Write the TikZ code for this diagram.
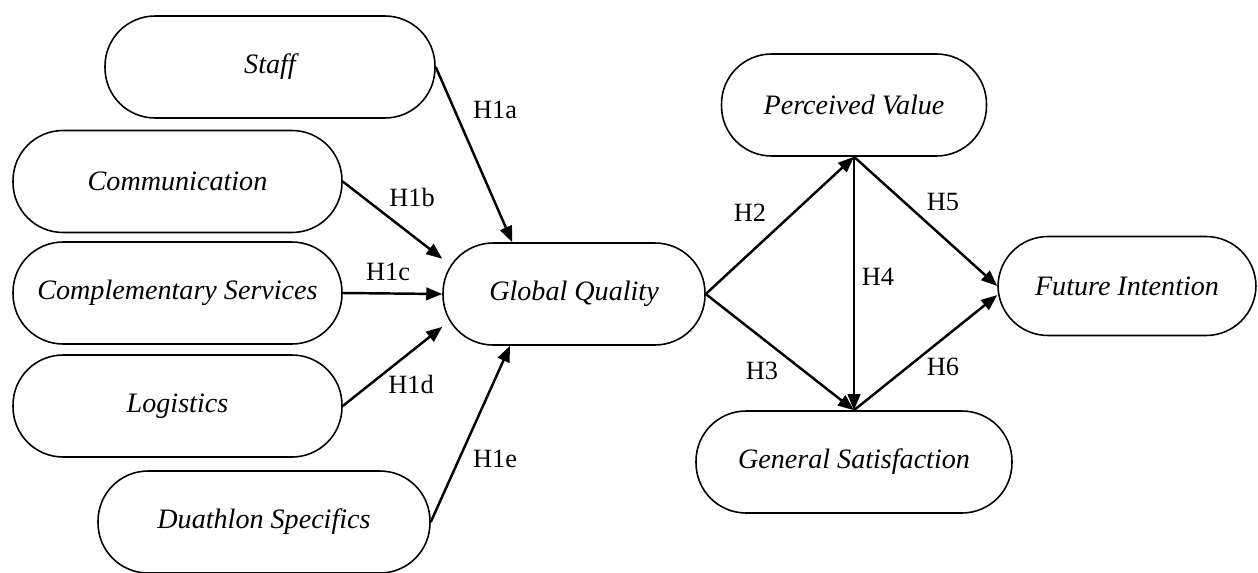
\documentclass[tikz,border=0pt]{standalone}
\usepackage{fontspec}
\setmainfont{Liberation Serif}
\usetikzlibrary{arrows.meta}

\tikzset{
    construct/.style={draw, line width=0.9pt, rounded corners=1cm, minimum height=2.04cm, inner sep=0pt, font=\fontsize{16}{19}\selectfont\itshape},
    hyparrow/.style={line width=1.4pt, -{Triangle[length=3.2mm, width=2.5mm]}},
    hyplabel/.style={inner sep=0pt, font=\fontsize{15}{18}\selectfont}
}

\begin{document}
\begin{tikzpicture}[x=0.02cm, y=-0.02cm]
        \useasboundingbox (0, 0) rectangle (1258, 572);
        % service quality dimensions
        \node[construct, minimum width=6.6cm] (staff) at (270, 67) {Staff};
        \node[construct, minimum width=6.58cm] (comm) at (177.5, 181.5) {Communication};
        \node[construct, minimum width=6.58cm] (compserv) at (177.5, 293) {Complementary Services};
        \node[construct, minimum width=6.58cm] (logistics) at (177.5, 406) {Logistics};
        \node[construct, minimum width=6.64cm] (duathlon) at (264, 522) {Duathlon Specifics};
        % outcomes
        \node[construct, minimum width=5.24cm] (gq) at (574, 294) {Global Quality};
        \node[construct, minimum width=5.3cm] (pv) at (854, 105) {Perceived Value};
        \node[construct, minimum width=6.32cm] (gs) at (854, 462) {General Satisfaction};
        \node[construct, minimum width=5.16cm, minimum height=1.98cm] (fi) at (1127, 286) {Future Intention};

        \draw[hyparrow] (staff.east) -- (gq.140);
        \draw[hyparrow] (comm.east) -- (gq.165);
        \draw[hyparrow] (compserv.east) -- (gq.west);
        \draw[hyparrow] (logistics.east) -- (gq.194);
        \draw[hyparrow] (duathlon.east) -- (gq.219);
        \draw[hyparrow] (gq.east) -- (pv.south);
        \draw[hyparrow] (gq.east) -- (gs.north);
        \draw[hyparrow] (pv.south) -- (gs.north);
        \draw[hyparrow] (pv.south) -- (fi.west);
        \draw[hyparrow] (gs.north) -- (fi.184);

        \node[hyplabel] (h1a) at (495, 110) {H1a};
        \node[hyplabel] (h1b) at (412, 197) {H1b};
        \node[hyplabel] (h1c) at (388, 272) {H1c};
        \node[hyplabel] (h1d) at (411, 384) {H1d};
        \node[hyplabel] (h1e) at (495, 459) {H1e};
        \node[hyplabel] (h2) at (750, 213) {H2};
        \node[hyplabel] (h3) at (762, 371) {H3};
        \node[hyplabel] (h4) at (878, 277) {H4};
        \node[hyplabel] (h5) at (943, 202) {H5};
        \node[hyplabel] (h6) at (943, 367) {H6};
\end{tikzpicture}
\end{document}
